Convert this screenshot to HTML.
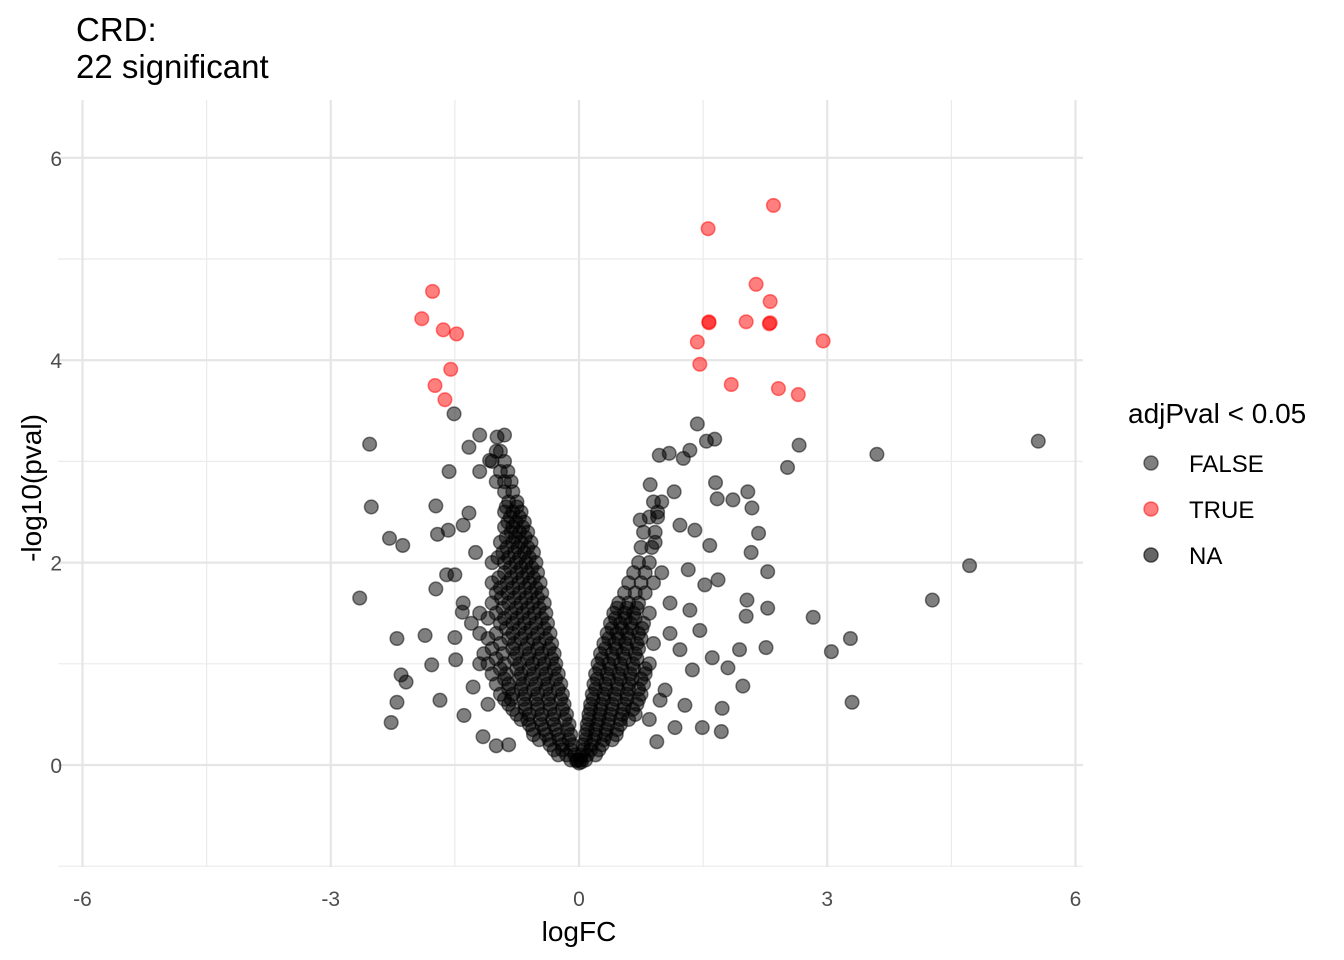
<!DOCTYPE html>
<html><head><meta charset="utf-8"><style>
html,body{margin:0;padding:0;background:#fff;}
svg{display:block;font-family:"Liberation Sans",Arial,sans-serif;}
</style></head><body>
<svg id="chart" width="1344" height="960" viewBox="0 0 1344 960">
<g id="grid"></g>
<g id="points"></g>
<g id="axes"></g>
<text x="76" y="41" font-size="33" fill="#000">CRD:</text>
<text x="76" y="78" font-size="33" fill="#000">22 significant</text>
<text x="579" y="941" font-size="28" text-anchor="middle" fill="#000">logFC</text>
<text transform="translate(41,488) rotate(-90)" font-size="28" text-anchor="middle" fill="#000">-log10(pval)</text>
<g>
<text x="1128" y="423" font-size="28" fill="#000">adjPval &lt; 0.05</text>
<g><circle cx="1151" cy="463" r="7" fill="rgba(0,0,0,0.5)" stroke="rgba(0,0,0,0.5)" stroke-width="1.5"/><text x="1189" y="472" font-size="24" fill="#000">FALSE</text></g>
<g><circle cx="1151" cy="509" r="7" fill="rgba(255,0,0,0.5)" stroke="rgba(255,0,0,0.5)" stroke-width="1.5"/><text x="1189" y="518" font-size="24" fill="#000">TRUE</text></g>
<g><circle cx="1151" cy="555" r="7" fill="rgba(0,0,0,0.6)" stroke="rgba(0,0,0,0.6)" stroke-width="1.5"/><text x="1189" y="564" font-size="24" fill="#000">NA</text></g>
</g>
</svg>
<script>
const xTicks = [-6,-3,0,3,6];
const xMinor = [-4.5,-1.5,1.5,4.5];
const yTicks = [0,2,4,6];
const yMinor = [-1,1,3,5];
const redPoints = [[-1.77,4.68],[-1.90,4.41],[-1.64,4.30],[-1.48,4.26],[-1.55,3.91],[-1.74,3.75],[-1.62,3.61],
[2.35,5.53],[1.56,5.30],[2.14,4.75],[2.31,4.58],[1.57,4.38],[2.02,4.38],[2.31,4.37],[1.43,4.18],[2.95,4.19],[1.46,3.96],[1.84,3.76],[2.41,3.72],[2.65,3.66],[2.30,4.36],[1.57,4.37]];
const grayPoints = [[-2.53,3.17],[-2.51,2.55],[-2.65,1.65],[-2.29,2.24],[-2.13,2.17],[-2.2,1.25],[-1.86,1.28],[-2.15,0.89],[-2.09,0.82],[-2.2,0.62],[-2.27,0.42],[-1.68,0.64],[-1.78,0.99],[-1.73,1.74],[-1.73,2.56],[-1.51,3.47],[-1.57,2.9],
[5.55,3.2],[4.72,1.97],[4.27,1.63],[3.6,3.07],[2.66,3.16],[2.52,2.94],[2.83,1.46],[3.28,1.25],[3.05,1.12],[3.3,0.62],[1.43,3.37],[1.64,3.22],[2.28,1.91],[2.28,1.55],[2.26,1.16],[1.73,0.56],[1.72,0.33],[2.03,1.63],[2.04,2.70],[1.86,2.62],[2.09,2.54],[2.17,2.29],[2.08,2.10],[1.67,2.63],[1.65,2.79],[1.09,3.08],[1.26,3.03],[1.34,3.11],[1.54,3.2],[0.97,3.06],[2.02,1.47],[1.94,1.14],[1.98,0.78],[1.8,0.96],[1.61,1.06],
[-1.33,3.14],[-1.2,3.26],[-0.99,3.24],[-0.9,3.26],[-1.08,3.01],[-1.33,2.49],[-1.40,2.37],[-1.58,2.32],[-1.71,2.28],[-1.5,1.88],[-1.6,1.88],[-1.40,1.6],[-1.41,1.51],[-1.5,1.26],[-1.49,1.04],[-1.39,0.49],[-1.16,0.28],[-1.0,0.19],[-1.28,0.77],[-1.2,2.9],[-1.25,2.1],[-1.3,1.4],[-1.2,1.0],[-1.1,0.6],[-0.85,0.2],
[0.74,2.42],[0.86,2.77],[0.92,2.2],[1.22,2.37],[1.40,2.32],[1.58,2.17],[1.32,1.93],[1.52,1.78],[1.68,1.83],[1.34,1.53],[1.46,1.33],[1.22,1.14],[0.98,0.64],[1.16,0.37],[1.49,0.37],[0.94,0.23],[1.04,0.74],[1.37,0.94],[1.28,0.59],[1.0,1.9],[1.1,1.6],[0.95,2.5],[1.15,2.7],[1.1,1.3],[0.85,0.45],
[0,0.02],[-0.03,0.04],[0.03,0.03]];
const coreLeft = [[0.1,[-0.05,-0.15,-0.25]],[0.2,[-0.08,-0.2,-0.35]],[0.3,[-0.1,-0.25,-0.4,-0.55]],[0.4,[-0.12,-0.3,-0.45,-0.6]],
[0.5,[-0.15,-0.3,-0.45,-0.6,-0.75]],[0.6,[-0.18,-0.35,-0.5,-0.65,-0.85]],[0.7,[-0.2,-0.35,-0.5,-0.65,-0.8,-0.95]],
[0.8,[-0.22,-0.38,-0.52,-0.68,-0.85,-1.0]],[0.9,[-0.25,-0.4,-0.55,-0.7,-0.88,-1.05]],[1.0,[-0.28,-0.42,-0.56,-0.72,-0.9,-1.1]],
[1.1,[-0.3,-0.45,-0.6,-0.75,-0.92,-1.15]],[1.2,[-0.33,-0.48,-0.62,-0.78,-0.95]],[1.3,[-0.35,-0.5,-0.65,-0.8,-1.0,-1.2]],
[1.4,[-0.38,-0.52,-0.66,-0.8,-0.95]],[1.5,[-0.4,-0.54,-0.68,-0.82,-1.0,-1.2]],[1.6,[-0.42,-0.56,-0.7,-0.85,-1.05]],
[1.7,[-0.45,-0.58,-0.72,-0.86,-1.0]],[1.8,[-0.47,-0.6,-0.73,-0.87,-1.05]],[1.9,[-0.5,-0.62,-0.75,-0.9]],
[2.0,[-0.52,-0.64,-0.76,-0.9,-1.05]],[2.1,[-0.55,-0.66,-0.78,-0.92]],[2.2,[-0.58,-0.7,-0.8,-0.95]],[2.3,[-0.62,-0.72,-0.82]],
[2.4,[-0.66,-0.76,-0.86]],[2.5,[-0.7,-0.8,-0.9]],[2.6,[-0.75,-0.85]],[2.8,[-0.82,-0.9,-1.0]],[3.0,[-0.9,-1.05]]];
const coreLeftB = [[0.05,[-0.02,-0.1]],[0.15,[-0.1,-0.2,-0.3]],[0.25,[-0.12,-0.24,-0.36,-0.48]],[0.35,[-0.14,-0.28,-0.42,-0.56]],
[0.45,[-0.17,-0.32,-0.47,-0.62,-0.7]],[0.55,[-0.2,-0.35,-0.5,-0.65,-0.8]],[0.65,[-0.22,-0.37,-0.52,-0.67,-0.82,-0.9]],
[0.75,[-0.25,-0.4,-0.55,-0.7,-0.85]],[0.85,[-0.28,-0.42,-0.58,-0.72,-0.9]],[0.95,[-0.3,-0.45,-0.6,-0.75,-0.95]],
[1.05,[-0.33,-0.48,-0.62,-0.78,-1.0]],[1.15,[-0.36,-0.5,-0.65,-0.8,-1.05]],[1.25,[-0.4,-0.55,-0.7,-0.85,-1.1]],
[1.35,[-0.42,-0.58,-0.72,-0.88]],[1.45,[-0.45,-0.6,-0.75,-0.9,-1.1]],[1.55,[-0.48,-0.62,-0.76,-0.92]],
[1.65,[-0.5,-0.64,-0.78,-0.94]],[1.75,[-0.52,-0.65,-0.8,-0.95]],[1.85,[-0.55,-0.68,-0.82,-0.97]],[1.95,[-0.57,-0.7,-0.83]],
[2.05,[-0.6,-0.72,-0.85,-0.98]],[2.15,[-0.62,-0.74,-0.87]],[2.25,[-0.65,-0.77,-0.88]],[2.35,[-0.68,-0.8,-0.9]],
[2.45,[-0.72,-0.83]],[2.55,[-0.75,-0.88]],[2.7,[-0.8,-0.9]],[2.9,[-0.86,-0.95]],[3.1,[-0.95,-1.0]]];
const coreRight = [[0.1,[0.03,0.1,0.2]],[0.2,[0.05,0.15,0.28]],[0.3,[0.08,0.2,0.32,0.45]],[0.4,[0.1,0.22,0.35,0.5]],
[0.5,[0.12,0.25,0.38,0.52,0.68]],[0.6,[0.14,0.27,0.4,0.55,0.7]],[0.7,[0.16,0.3,0.43,0.58,0.75]],[0.8,[0.18,0.32,0.46,0.6,0.78]],
[0.9,[0.2,0.34,0.48,0.62,0.8]],[1.0,[0.23,0.36,0.5,0.65,0.85]],[1.1,[0.26,0.4,0.53,0.68]],[1.2,[0.3,0.43,0.56,0.7,0.9]],
[1.3,[0.34,0.46,0.58,0.72]],[1.4,[0.38,0.5,0.62,0.78]],[1.5,[0.42,0.55,0.66,0.85]],[1.6,[0.48,0.6,0.72]],
[1.8,[0.6,0.75,0.9]],[2.0,[0.72,0.85]],[2.3,[0.78,0.92]],[2.6,[0.9,1.0]]];
const coreRightB = [[0.05,[0.02,0.08]],[0.15,[0.06,0.14,0.24]],[0.25,[0.08,0.18,0.3,0.4]],[0.35,[0.1,0.2,0.33,0.46]],
[0.45,[0.12,0.24,0.36,0.5,0.6]],[0.55,[0.14,0.26,0.4,0.54,0.65]],[0.65,[0.17,0.3,0.44,0.58,0.72]],[0.75,[0.2,0.33,0.47,0.6,0.72]],
[0.85,[0.22,0.36,0.5,0.64,0.75]],[0.95,[0.25,0.38,0.52,0.66,0.8]],[1.05,[0.28,0.42,0.55,0.7]],[1.15,[0.32,0.45,0.58,0.72]],
[1.25,[0.36,0.48,0.6,0.75]],[1.35,[0.4,0.52,0.64,0.76]],[1.45,[0.44,0.56,0.68]],[1.55,[0.46,0.58,0.7]],
[1.7,[0.55,0.68,0.8]],[1.9,[0.66,0.8]],[2.15,[0.75,0.88]],[2.45,[0.85,0.95]]];

const NS='http://www.w3.org/2000/svg';
const X0=58,X1=1083,Y0=100,Y1=867;
function xs(v){return 579+v*82.75;}
function ys(v){return 765-v*101.2;}
function mk(tag,attrs,parent){const e=document.createElementNS(NS,tag);for(const k in attrs)e.setAttribute(k,attrs[k]);parent.appendChild(e);return e;}
const grid=document.getElementById('grid'),pts=document.getElementById('points'),axes=document.getElementById('axes');
xMinor.forEach(v=>{const l=mk('line',{x1:xs(v),x2:xs(v),y1:Y0,y2:Y1,stroke:'#ebebeb','stroke-width':1.2},grid);

});
yMinor.forEach(v=>{const l=mk('line',{x1:X0,x2:X1,y1:ys(v),y2:ys(v),stroke:'#ebebeb','stroke-width':1.2},grid);

});
xTicks.forEach(v=>{const l=mk('line',{x1:xs(v),x2:xs(v),y1:Y0,y2:Y1,stroke:'#e5e5e5','stroke-width':2.2},grid);


const t=mk('text',{x:xs(v),y:906,'font-size':21,'text-anchor':'middle',fill:'#4d4d4d'},axes);t.textContent=v;

});
yTicks.forEach(v=>{const l=mk('line',{x1:X0,x2:X1,y1:ys(v),y2:ys(v),stroke:'#e5e5e5','stroke-width':2.2},grid);


const t=mk('text',{x:62,y:ys(v)+8,'font-size':21,'text-anchor':'end',fill:'#4d4d4d'},axes);t.textContent=v;

});
function dot(x,y,col,name){const c=mk('circle',{cx:xs(x),cy:ys(y),r:6.8,fill:col,stroke:col,'stroke-width':1.5},pts);

}
const G='rgba(0,0,0,0.5)',R='rgba(255,0,0,0.5)';
[coreLeft,coreLeftB,coreRight,coreRightB].forEach(set=>set.forEach(r=>r[1].forEach(x=>dot(x,r[0],G,'point-not-significant'))));
grayPoints.forEach(p=>dot(p[0],p[1],G,'point-not-significant'));
redPoints.forEach(p=>dot(p[0],p[1],R,'point-significant'));
</script>
</body></html>
